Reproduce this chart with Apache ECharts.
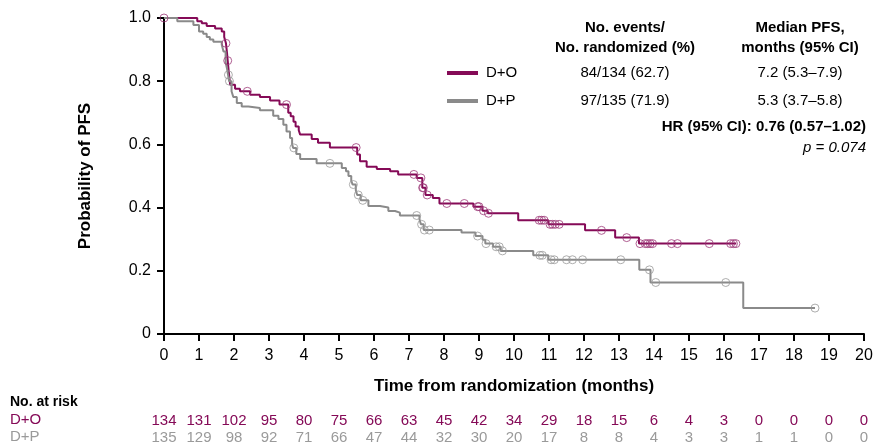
<!DOCTYPE html>
<html>
<head>
<meta charset="utf-8">
<script src="https://cdn.jsdelivr.net/npm/echarts@6/dist/echarts.min.js"></script>
<style>
  html, body { margin: 0; padding: 0; background: #fff; }
  #chart { width: 876px; height: 445px; }
</style>
</head>
<body>
<div id="chart"></div>
<script>
// Kaplan-Meier steps: time (months) and survival after the drop
const doTimes = [0, 0.95, 1.08, 1.22, 1.46, 1.65, 1.72, 1.77, 1.8, 1.82, 1.85, 1.89, 2.03, 2.17, 2.46, 2.74, 3.03, 3.3,
  3.55, 3.62, 3.7, 3.76, 3.85, 3.89, 4.22, 4.4, 4.74, 5.52, 5.6, 5.79, 6.08, 6.46, 6.69, 7.22, 7.38, 7.47, 7.68, 7.87,
  8.84, 9.1, 9.25, 10.12, 10.98, 12.03, 12.89, 13.57, 16.35];
const doSurv = [1, 0.99, 0.983, 0.975, 0.967, 0.957, 0.94, 0.92, 0.89, 0.865, 0.83, 0.789, 0.776, 0.768, 0.757, 0.75, 0.739, 0.726,
  0.70, 0.689, 0.672, 0.657, 0.645, 0.631, 0.617, 0.605, 0.59, 0.568, 0.547, 0.529, 0.522, 0.515, 0.505, 0.494, 0.463, 0.44, 0.43, 0.413,
  0.403, 0.39, 0.382, 0.36, 0.347, 0.328, 0.305, 0.286, 0.286];
const doCensT = [0, 1.77, 1.82, 2.38, 3.5, 5.49, 7.14, 7.34, 7.39, 7.41, 7.52, 8.08, 8.58, 8.96, 9.0, 9.13, 9.27, 10.72, 10.79, 10.86,
  11.03, 11.1, 11.18, 11.29, 12.5, 13.22, 13.6, 13.75, 13.82, 13.89, 13.96, 14.5, 14.67, 15.58, 16.19, 16.27, 16.34];
const doCensS = [1, 0.92, 0.865, 0.768, 0.726, 0.59, 0.505, 0.494, 0.463, 0.463, 0.44, 0.413, 0.413, 0.403, 0.403, 0.39, 0.382, 0.36, 0.36, 0.36,
  0.347, 0.347, 0.347, 0.347, 0.328, 0.305, 0.286, 0.286, 0.286, 0.286, 0.286, 0.286, 0.286, 0.286, 0.286, 0.286, 0.286];

const dpTimes = [0, 0.38, 0.84, 1.0, 1.12, 1.22, 1.31, 1.41, 1.65, 1.7, 1.76, 1.8, 1.83, 1.86, 1.93, 1.98, 2.08, 2.22, 2.41, 2.74,
  3.12, 3.27, 3.41, 3.5, 3.6, 3.66, 3.69, 3.78, 3.89, 4.36, 5.08, 5.2, 5.27, 5.35, 5.39, 5.48, 5.52, 5.62, 5.84, 6.17, 6.41, 6.6, 6.74,
  7.3, 7.34, 7.42, 8.5, 8.9, 9.1, 9.18, 9.4, 9.62, 10.55, 10.98, 13.58, 13.9, 16.55, 18.6];
const dpSurv = [1, 0.99, 0.978, 0.957, 0.95, 0.94, 0.932, 0.925, 0.915, 0.894, 0.86, 0.84, 0.82, 0.80, 0.768, 0.75, 0.731, 0.72, 0.715, 0.708,
  0.691, 0.68, 0.662, 0.641, 0.62, 0.60, 0.589, 0.57, 0.554, 0.54, 0.525, 0.515, 0.50, 0.485, 0.473, 0.455, 0.44, 0.423, 0.405, 0.4, 0.389, 0.384, 0.375,
  0.363, 0.347, 0.329, 0.321, 0.31, 0.298, 0.286, 0.276, 0.263, 0.249, 0.235, 0.203, 0.163, 0.082, 0.082];
const dpCensT = [1.84, 1.87, 3.71, 4.74, 5.41, 5.55, 5.68, 7.22, 7.36, 7.44, 7.58, 8.96, 9.2, 9.49, 9.58, 9.67, 10.74, 10.81,
  11.06, 11.15, 11.5, 11.67, 11.96, 13.05, 13.87, 14.05, 16.05, 18.6];
const dpCensS = [0.82, 0.80, 0.589, 0.54, 0.473, 0.44, 0.423, 0.375, 0.347, 0.329, 0.329, 0.31, 0.286, 0.276, 0.276, 0.263, 0.249, 0.249,
  0.235, 0.235, 0.235, 0.235, 0.235, 0.235, 0.203, 0.163, 0.163, 0.082];

// numbers at risk, one per month 0..20
const riskDO = [134, 131, 102, 95, 80, 75, 66, 63, 45, 42, 34, 29, 18, 15, 6, 4, 3, 0, 0, 0, 0];
const riskDP = [135, 129, 98, 92, 71, 66, 47, 44, 32, 30, 20, 17, 8, 8, 4, 3, 3, 1, 1, 0, 0];

const groups = ['D+O', 'D+P'];
const events = ['84/134 (62.7)', '97/135 (71.9)'];
const medians = ['7.2 (5.3\u20137.9)', '5.3 (3.7\u20135.8)'];

const purple = '#850a57';
const grey = '#8a8a8a';
const font = 'Liberation Sans, Arial, sans-serif';

const zip = (a, b) => a.map((v, i) => [v, b[i]]);

const chart = echarts.init(document.getElementById('chart'));

function riskAxis(arr, color, offset) {
  return {
    type: 'value', min: 0, max: 20, interval: 1, position: 'bottom', offset: offset,
    axisLine: { show: false }, axisTick: { show: false }, splitLine: { show: false },
    axisLabel: {
      margin: 8, fontSize: 15, color: color, fontFamily: font,
      formatter: v => (arr[v] !== undefined ? String(arr[v]) : '')
    }
  };
}

// text placed by its anchor point
const txt = (x, y, text, opt) => ({
  type: 'text', x: x, y: y,
  style: Object.assign({ text: text, font: '15px ' + font, fill: '#000', align: 'left', verticalAlign: 'middle' }, opt || {})
});

const option = {
  animation: false,
  grid: { left: 164, right: 12, top: 18, bottom: 110 },
  xAxis: [
    {
      type: 'value', min: 0, max: 20, interval: 1,
      name: 'Time from randomization (months)', nameLocation: 'middle', nameGap: 44,
      nameTextStyle: { fontSize: 17, fontWeight: 'bold', color: '#000', fontFamily: font },
      axisLine: { lineStyle: { color: '#000', width: 2 } },
      axisTick: { length: 7, lineStyle: { color: '#000', width: 2 } },
      axisLabel: { fontSize: 16, color: '#000', margin: 14, fontFamily: font },
      splitLine: { show: false }
    },
    riskAxis(riskDO, purple, 71),
    riskAxis(riskDP, '#9a9a9a', 88)
  ],
  yAxis: {
    type: 'value', min: 0, max: 1, interval: 0.2,
    name: 'Probability of PFS', nameLocation: 'middle', nameGap: 70,
    nameTextStyle: { fontSize: 17, fontWeight: 'bold', color: '#000', fontFamily: font },
    axisLine: { show: true, lineStyle: { color: '#000', width: 2 } },
    axisTick: { show: true, length: 7, lineStyle: { color: '#000', width: 2 } },
    axisLabel: { fontSize: 16, color: '#000', margin: 13, fontFamily: font,
      formatter: v => (v === 0 ? '0' : v.toFixed(1)) },
    splitLine: { show: false }
  },
  series: [
    {
      name: 'D+O', type: 'line', step: 'end', data: zip(doTimes, doSurv),
      showSymbol: false, lineStyle: { color: purple, width: 2 }, z: 3
    },
    {
      name: 'D+P', type: 'line', step: 'end', data: zip(dpTimes, dpSurv),
      showSymbol: false, lineStyle: { color: grey, width: 2 }, z: 4
    },
    {
      type: 'scatter', data: zip(doCensT, doCensS), symbol: 'circle', symbolSize: 8,
      itemStyle: { color: 'rgba(0,0,0,0)', borderColor: '#9c3a78', borderWidth: 1 }, z: 5
    },
    {
      type: 'scatter', data: zip(dpCensT, dpCensS), symbol: 'circle', symbolSize: 8,
      itemStyle: { color: 'rgba(0,0,0,0)', borderColor: '#9a9a9a', borderWidth: 1 }, z: 5
    }
  ],
  graphic: [
    txt(625, 28, 'No. events/', { font: 'bold 15px ' + font, align: 'center' }),
    txt(625, 48, 'No. randomized (%)', { font: 'bold 15px ' + font, align: 'center' }),
    txt(800, 28, 'Median PFS,', { font: 'bold 15px ' + font, align: 'center' }),
    txt(800, 48, 'months (95% CI)', { font: 'bold 15px ' + font, align: 'center' }),
    { type: 'rect', x: 447, y: 71, shape: { width: 31, height: 4 }, style: { fill: purple } },
    { type: 'rect', x: 447, y: 99, shape: { width: 31, height: 4 }, style: { fill: grey } },
    txt(486, 73, groups[0]),
    txt(486, 101, groups[1]),
    txt(625, 73, events[0], { align: 'center' }),
    txt(625, 101, events[1], { align: 'center' }),
    txt(800, 73, medians[0], { align: 'center' }),
    txt(800, 101, medians[1], { align: 'center' }),
    txt(866, 127, 'HR (95% CI): 0.76 (0.57\u20131.02)', { font: 'bold 15px ' + font, align: 'right' }),
    txt(866, 148, 'p = 0.074', { font: 'italic 15px ' + font, align: 'right' }),
    txt(10, 402, 'No. at risk', { font: 'bold 14px ' + font }),
    txt(10, 420, groups[0], { fill: purple }),
    txt(10, 437, groups[1], { fill: '#9a9a9a' })
  ]
};

chart.setOption(option);
</script>
</body>
</html>
